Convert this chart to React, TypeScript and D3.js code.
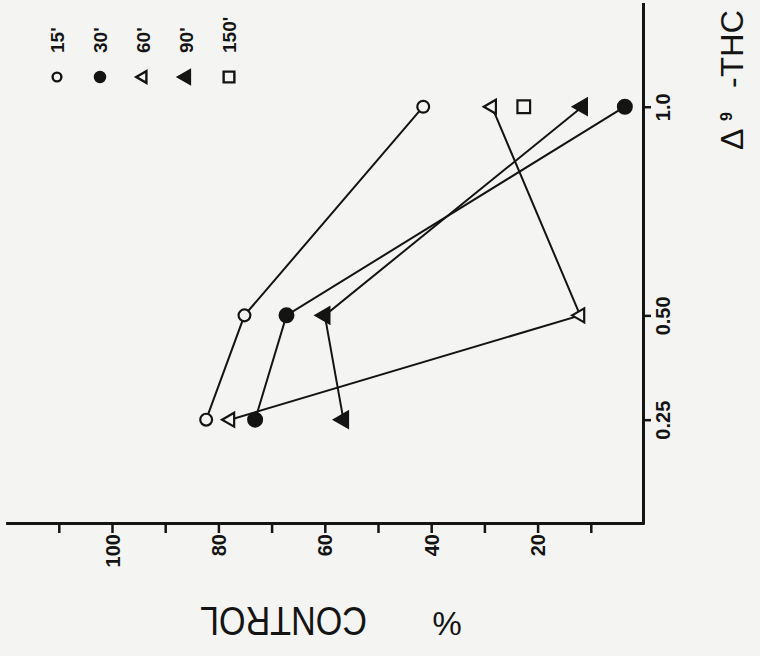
import { useRef, useEffect } from "react";
import * as d3 from "d3";

// dose of delta-9-THC (mg/kg) on the vertical axis, % of control on the horizontal
const doses = [0.25, 0.5, 1.0];
const doseLabels = ["0.25", "0.50", "1.0"];
const pctTicks = [10, 20, 30, 40, 50, 60, 70, 80, 90, 100, 110];
const pctLabels = [20, 40, 60, 80, 100];

const seriesNames = ["15'", "30'", "60'", "90'", "150'"];
const vals15 = [82.3, 75.1, 41.5];
const vals30 = [73.1, 67.2, 3.6];
const vals60 = [77.8, 12.0, 28.6];
const vals90 = [56.5, 60.0, 11.6];
const vals150 = [null, null, 22.6];

type Marker = { shape: d3.SymbolType; filled: boolean; size: number; legendSize: number; turn: number };
const markers: Marker[] = [
  { shape: d3.symbolCircle, filled: false, size: 110, legendSize: 60, turn: 0 },
  { shape: d3.symbolCircle, filled: true, size: 150, legendSize: 80, turn: 0 },
  { shape: d3.symbolTriangle, filled: false, size: 85, legendSize: 60, turn: -90 },
  { shape: d3.symbolTriangle, filled: true, size: 110, legendSize: 80, turn: -90 },
  { shape: d3.symbolSquare, filled: false, size: 160, legendSize: 115, turn: 0 },
];

const INK = "#141414";
const PAPER = "#f4f4f2";
const FONT = "'Liberation Sans', Arial, sans-serif";

export default function App() {
  const svgRef = useRef<SVGSVGElement>(null);

  useEffect(() => {
    if (!svgRef.current) return;
    const svg = d3.select(svgRef.current);
    svg.selectAll("*").remove();

    const x = d3.scaleLinear().domain([0, 120]).range([644, 5.6]);
    const y = d3.scaleLinear().domain([0, 1.25]).range([524, 2.4]);

    svg.append("rect").attr("width", 760).attr("height", 656).attr("fill", PAPER);

    // % control axis (bottom)
    const xAxis = svg.append("g").attr("transform", "translate(0,523)")
      .call(d3.axisBottom(x).tickValues(pctTicks).tickSize(10).tickSizeOuter(0)
        .tickFormat((d) => (pctLabels.includes(+d) ? String(d) : "")));
    xAxis.select(".domain").attr("stroke", INK).attr("stroke-width", 3);
    xAxis.selectAll(".tick line").attr("stroke", INK).attr("stroke-width", 2.5);
    xAxis.selectAll(".tick text")
      .attr("transform", "rotate(-90)").attr("x", -11).attr("y", 7).attr("dy", 0)
      .attr("text-anchor", "end").attr("font-family", FONT).attr("font-size", 20)
      .attr("font-weight", 700).attr("fill", INK);

    // dose axis (right)
    const yAxis = svg.append("g").attr("transform", "translate(643,0)")
      .call(d3.axisRight(y).tickValues(doses).tickSize(8).tickSizeOuter(0)
        .tickFormat((_, i) => doseLabels[i]));
    yAxis.select(".domain").attr("stroke", INK).attr("stroke-width", 3);
    yAxis.selectAll(".tick line").attr("stroke", INK).attr("stroke-width", 2.5);
    yAxis.selectAll(".tick text")
      .attr("transform", "rotate(-90)").attr("x", 0).attr("y", 27).attr("dy", 0)
      .attr("text-anchor", "middle").attr("font-family", FONT).attr("font-size", 20)
      .attr("font-weight", 700).attr("fill", INK);

    // data
    const allSeries = [vals15, vals30, vals60, vals90, vals150];
    const line = d3.line<[number, number | null]>()
      .defined((d) => d[1] != null)
      .x((d) => x(d[1] as number)).y((d) => y(d[0]));

    allSeries.forEach((vals) => {
      const pts = doses.map((d, i) => [d, vals[i]] as [number, number | null]);
      svg.append("path").datum(pts).attr("d", line)
        .attr("fill", "none").attr("stroke", INK).attr("stroke-width", 2);
    });

    allSeries.forEach((vals, s) => {
      const m = markers[s];
      doses.forEach((d, i) => {
        const v = vals[i];
        if (v == null) return;
        svg.append("path")
          .attr("d", d3.symbol(m.shape, m.size)())
          .attr("transform", `translate(${x(v)},${y(d)}) rotate(${m.turn})`)
          .attr("fill", m.filled ? INK : PAPER)
          .attr("stroke", INK).attr("stroke-width", 2.2);
      });
    });

    // legend
    const legend = svg.append("g");
    seriesNames.forEach((name, i) => {
      const m = markers[i];
      const lx = 57 + i * 43;
      legend.append("path")
        .attr("d", d3.symbol(m.shape, m.legendSize)())
        .attr("transform", `translate(${lx},77) rotate(${m.turn})`)
        .attr("fill", m.filled ? INK : PAPER)
        .attr("stroke", INK).attr("stroke-width", 2.4);
      legend.append("text")
        .attr("transform", `translate(${lx + 7},53) rotate(-90)`)
        .attr("font-family", FONT).attr("font-size", 19).attr("font-weight", 700)
        .attr("fill", INK).text(name);
    });

    // axis titles
    const thc = svg.append("g").attr("transform", "translate(743,150) rotate(-90)")
      .attr("font-family", FONT).attr("fill", INK);
    thc.append("text").attr("x", 0).attr("font-size", 32).text("\u0394");
    thc.append("text").attr("x", 29).attr("y", -11).attr("font-size", 16).attr("font-weight", 700).text("9");
    thc.append("text").attr("x", 62).attr("font-size", 32).text("-");
    thc.append("text").attr("x", 73).attr("font-size", 32).attr("textLength", 67)
      .attr("lengthAdjust", "spacingAndGlyphs").text("THC");

    svg.append("text").attr("transform", "translate(283.5,607) rotate(180)")
      .attr("text-anchor", "middle").attr("font-family", FONT).attr("font-size", 41)
      .attr("textLength", 167).attr("lengthAdjust", "spacingAndGlyphs")
      .attr("fill", INK).text("CONTROL");
    svg.append("text").attr("transform", "translate(447,612) rotate(180)")
      .attr("text-anchor", "middle").attr("font-family", FONT).attr("font-size", 33)
      .attr("fill", INK).text("%");
  }, []);

  return (
    <div style={{ position: "absolute", left: 0, top: 0, width: 760, height: 656, background: PAPER }}>
      <svg ref={svgRef} width={760} height={656} style={{ display: "block" }} />
    </div>
  );
}
